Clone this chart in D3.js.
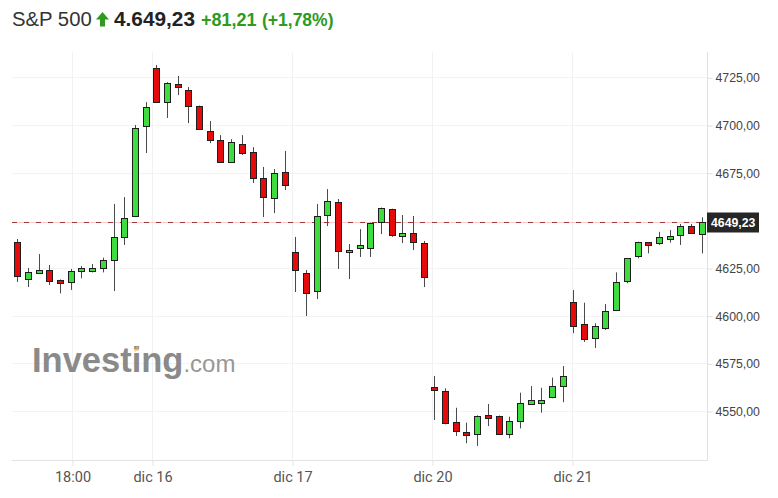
<!DOCTYPE html>
<html><head><meta charset="utf-8">
<script src="https://cdn.jsdelivr.net/npm/d3@7"></script>
<style>
html,body{margin:0;padding:0;background:#fff;}
svg{display:block;font-family:Arial,"Liberation Sans",sans-serif;}
</style></head>
<body>
<svg id="c" width="778" height="498"></svg>
<script>
// ---- data ----
const openV = [4638.6,4619.2,4622.4,4623.9,4618.9,4617.5,4623.3,4623.3,4625.2,4629.2,
  4641.1,4652.3,4699.5,4729.9,4712.0,4721.5,4718.3,4710.0,4696.8,4692.1,
  4680.6,4690.0,4685.8,4672.2,4661.7,4675.3,4633.4,4622.4,4612.9,4652.8,
  4659.6,4633.4,4635.5,4635.5,4649.1,4655.9,4641.8,4643.3,4638.1,4562.4,
  4560.5,4544.1,4539.0,4537.9,4548.1,4547.4,4538.1,4544.4,4553.7,4554.4,
  4557.5,4563.1,4607.0,4595.5,4588.3,4593.9,4602.9,4617.8,4631.3,4638.5,
  4638.1,4640.2,4642.3,4647.2,4642.8];
const highV = [4640.2,4625.0,4632.3,4626.6,4619.0,4624.5,4626.0,4627.1,4630.4,4658.6,
  4662.2,4700.0,4712.0,4731.5,4722.5,4725.7,4719.9,4710.2,4702.1,4694.7,
  4692.6,4694.7,4688.4,4678.0,4676.9,4686.4,4641.3,4623.9,4658.6,4666.4,
  4661.2,4637.6,4645.4,4648.8,4656.7,4656.1,4652.8,4652.3,4639.2,4568.4,
  4561.9,4551.7,4543.9,4547.7,4553.7,4547.6,4547.0,4559.6,4563.1,4562.2,
  4567.5,4573.6,4613.5,4606.8,4596.0,4606.1,4622.7,4630.2,4638.8,4638.6,
  4644.0,4644.9,4648.1,4648.1,4651.6];
const lowV = [4617.7,4615.0,4621.9,4616.1,4611.7,4613.5,4619.6,4622.7,4622.7,4612.9,
  4637.1,4651.7,4685.3,4711.8,4703.7,4715.7,4701.0,4697.7,4690.5,4680.4,
  4680.4,4684.3,4669.6,4651.7,4653.8,4665.9,4612.4,4599.8,4608.7,4647.0,
  4624.5,4619.2,4630.8,4630.8,4642.8,4641.3,4638.1,4634.4,4615.0,4545.3,
  4543.0,4536.9,4533.1,4531.7,4542.1,4537.6,4535.7,4540.9,4553.5,4549.1,
  4556.7,4554.6,4590.8,4586.2,4583.0,4592.5,4602.4,4617.0,4630.1,4632.7,
  4637.1,4638.3,4637.1,4643.3,4632.7];
const closeV = [4620.8,4622.9,4623.9,4618.3,4617.5,4623.4,4624.8,4624.8,4629.3,4641.1,
  4651.2,4698.4,4709.4,4712.0,4722.0,4719.9,4710.0,4697.9,4692.1,4680.6,
  4691.1,4685.3,4672.2,4662.2,4674.8,4668.5,4623.9,4611.9,4652.3,4660.1,
  4633.9,4634.4,4637.1,4648.6,4656.5,4642.3,4643.3,4638.6,4620.3,4561.0,
  4543.9,4539.5,4537.4,4547.5,4546.5,4537.9,4544.8,4554.0,4555.9,4555.9,
  4563.1,4568.4,4594.2,4587.8,4594.6,4602.6,4617.5,4630.1,4638.5,4636.9,
  4641.1,4641.9,4647.0,4643.5,4649.23];
const xTickPos = [5.115, 12.6, 25.69, 38.78, 51.87];   // in candle-index units
const xTickLabels = ["18:00", "dic 16", "dic 17", "dic 20", "dic 21"];
const yTicks = [4550, 4575, 4600, 4625, 4675, 4700, 4725];
const lastPrice = 4649.23;
const headerName = "S&P 500";
const headerPrice = "4.649,23";
const headerChange = "+81,21";
const headerPct = "(+1,78%)";

// ---- layout ----
const L = 12, R = 707.5, T = 52, B = 460;
const svg = d3.select("#c");
const x = d3.scaleLinear().domain([0, openV.length - 1]).range([17.3, 701.7]);
const y = d3.scaleLinear().domain([4524.3, 4738.3]).range([B, T]);
const fmt = v => d3.format(".2f")(v).replace(".", ",");

// gridlines
svg.append("g").selectAll("line").data(yTicks).join("line")
  .attr("x1", L).attr("x2", R)
  .attr("y1", d => Math.round(y(d)) + 0.5).attr("y2", d => Math.round(y(d)) + 0.5)
  .attr("stroke", "#f3f3f3");
svg.append("g").selectAll("line").data(xTickPos).join("line")
  .attr("x1", d => Math.round(x(d)) + 0.5).attr("x2", d => Math.round(x(d)) + 0.5)
  .attr("y1", T).attr("y2", B)
  .attr("stroke", "#f1f1f1");

// watermark
const wm = svg.append("text").attr("x", 32).attr("y", 372).attr("fill", "#8a8a8a");
wm.append("tspan").attr("font-weight", "bold").attr("font-size", 34.5).text("Investing");
wm.append("tspan").attr("font-size", 24).attr("fill", "#979797").text(".com");
svg.append("path").attr("d", "M134,352 L137,345 L139,350 Z").attr("fill", "#f5b24a").attr("opacity", 0.7);

// axis borders
svg.append("line").attr("x1", L).attr("x2", R).attr("y1", B + 0.5).attr("y2", B + 0.5).attr("stroke", "#e2e2e2");
svg.append("line").attr("x1", R).attr("x2", R).attr("y1", T).attr("y2", B + 0.5).attr("stroke", "#e2e2e2");

// x axis
const xAxis = d3.axisBottom(x).tickValues(xTickPos).tickFormat((d, i) => xTickLabels[i]).tickSize(6).tickPadding(6);
const gx = svg.append("g").attr("transform", `translate(0.5,${B})`).call(xAxis);
gx.select(".domain").remove();
gx.selectAll(".tick line").attr("stroke", "#e4e4e4");
gx.selectAll(".tick text").attr("fill", "#555").attr("font-size", 14.5)
  .attr("font-family", "Roboto, Arial, sans-serif");

// y axis
const yAxis = d3.axisRight(y).tickValues(yTicks).tickFormat(fmt).tickSize(5).tickPadding(3);
const gy = svg.append("g").attr("transform", `translate(${R},0.5)`).call(yAxis);
gy.select(".domain").remove();
gy.selectAll(".tick line").attr("stroke", "#e0e0e0");
gy.selectAll(".tick text").attr("fill", "#444").attr("font-size", 12.3)
  .attr("font-family", "Arial, 'Liberation Sans', sans-serif");

// last price dashed line
const yp = Math.round(y(lastPrice)) + 0.5;
svg.append("line").attr("x1", L).attr("x2", R).attr("y1", yp).attr("y2", yp).attr("stroke", "#f6caca");
svg.append("line").attr("x1", L).attr("x2", R).attr("y1", yp).attr("y2", yp)
  .attr("stroke", "#9c3b3b").attr("stroke-dasharray", "5,7");

// candles
const data = openV.map((o, i) => ({i, o, h: highV[i], l: lowV[i], c: closeV[i]}));
const g = svg.append("g");
const cg = g.selectAll("g").data(data).join("g");
cg.append("line")
  .attr("x1", d => Math.round(x(d.i)) + 0.5).attr("x2", d => Math.round(x(d.i)) + 0.5)
  .attr("y1", d => y(d.h)).attr("y2", d => y(d.l))
  .attr("stroke", "#4a4a4a").attr("stroke-width", 1);
cg.append("rect")
  .attr("x", d => Math.round(x(d.i)) - 2.5)
  .attr("width", 6)
  .attr("y", d => Math.round(y(Math.max(d.o, d.c))) + 0.5)
  .attr("height", d => Math.max(2, Math.round(y(Math.min(d.o, d.c)) - y(Math.max(d.o, d.c)))))
  .attr("fill", d => d.c >= d.o ? "#3fdc3f" : "#e30b0b")
  .attr("stroke", "#1e1e1e").attr("stroke-width", 1);

// last price label
svg.append("rect").attr("x", R - 0.5).attr("y", yp - 10).attr("width", 52).attr("height", 20).attr("fill", "#262626");
svg.append("text").attr("x", R + 3.5).attr("y", yp + 4.5).attr("fill", "#fff")
  .attr("font-weight", "bold").attr("font-size", 12.3).text(fmt(lastPrice));

// header
svg.append("text").attr("x", 12).attr("y", 26).attr("font-size", 20.3).attr("fill", "#333").text(headerName);
svg.append("path").attr("d", "M102.5,12 L109,19.5 L105,19.5 L105,26.5 L100,26.5 L100,19.5 L96,19.5 Z").attr("fill", "#2e9a1e");
svg.append("text").attr("x", 114).attr("y", 26).attr("font-size", 20.8).attr("font-weight", "bold").attr("fill", "#222").text(headerPrice);
svg.append("text").attr("x", 201).attr("y", 26).attr("font-size", 18).attr("font-weight", "bold").attr("fill", "#2e9a1e").text(headerChange);
svg.append("text").attr("x", 262).attr("y", 26).attr("font-size", 17.5).attr("font-weight", "bold").attr("fill", "#2e9a1e").text(headerPct);
</script>
</body></html>
